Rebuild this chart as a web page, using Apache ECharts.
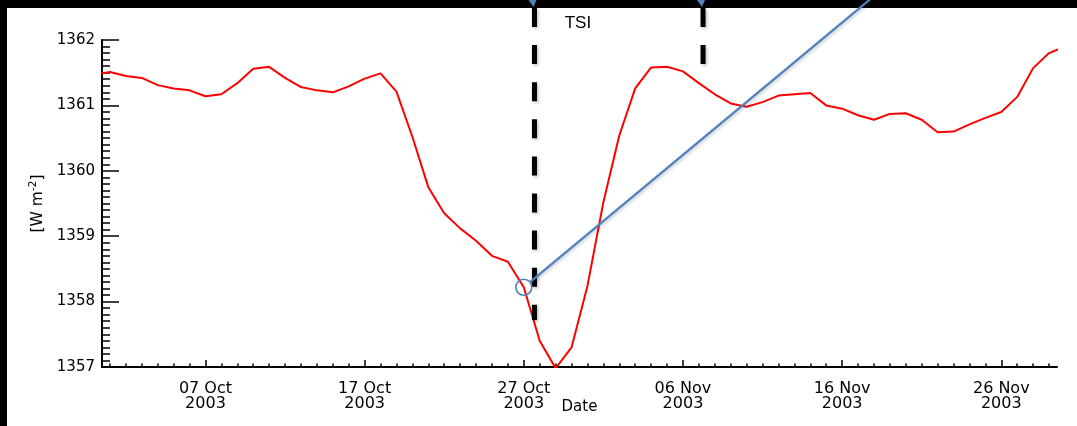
<!DOCTYPE html>
<html>
<head>
<meta charset="utf-8">
<script src="https://cdn.jsdelivr.net/npm/echarts@6/dist/echarts.min.js"></script>
<style>
html,body{margin:0;padding:0;background:#fff;}
#chart{width:1077px;height:426px;}
</style>
</head>
<body>
<div id="chart"></div>
<script>
// Days are counted from 01 Oct 2003 (day 0); first value is 30 Sep 2003.
const startDay = -1;
const tsi = [
  1361.47, 1361.51, 1361.45, 1361.42, 1361.31, 1361.26, 1361.23, 1361.14, 1361.17, 1361.34,
  1361.56, 1361.59, 1361.42, 1361.28, 1361.23, 1361.20, 1361.29, 1361.41, 1361.49, 1361.21,
  1360.52, 1359.75, 1359.35, 1359.12, 1358.93, 1358.70, 1358.61, 1358.22, 1357.40, 1356.98,
  1357.30, 1358.24, 1359.52, 1360.54, 1361.26, 1361.58, 1361.59, 1361.52, 1361.34, 1361.17,
  1361.03, 1360.98, 1361.05, 1361.15, 1361.17, 1361.19, 1361.00, 1360.95, 1360.85, 1360.78,
  1360.87, 1360.88, 1360.78, 1360.59, 1360.60, 1360.71, 1360.81, 1360.90, 1361.13, 1361.57,
  1361.80, 1361.90
];
const xMin = -0.5, xMax = 59.5;
const majorTickDays = [6, 16, 26, 36, 46, 56];
const majorTickLabels = ['07 Oct\n2003', '17 Oct\n2003', '27 Oct\n2003', '06 Nov\n2003', '16 Nov\n2003', '26 Nov\n2003'];
const minorTickDays = [];
for (let d = 0; d <= 59; d++) minorTickDays.push(d);
const yMin = 1357, yMax = 1362;

// annotation anchors (data coordinates)
const markerDays = [26.67, 37.26];
const markerBottoms = [1357.72, 1361.55];
const circleDay = 26;
const arrowEnd = [47.75, 1362.62];
const tsiLabel = 'TSI';
const tsiLabelPos = [29.4, 1362.26];

const font = 'DejaVu Sans';
const blue = '#4f81bd';

const seriesData = tsi.map((v, i) => [startDay + i, v]);

const chart = echarts.init(document.getElementById('chart'), null, {renderer: 'canvas'});
chart.setOption({
  animation: false,
  backgroundColor: '#fff',
  grid: {left: 102, right: 20, top: 40, bottom: 59, containLabel: false, outerBoundsMode: 'none'},
  xAxis: [{
    type: 'value', position: 'bottom', min: xMin, max: xMax,
    name: 'Date', nameLocation: 'middle', nameGap: 33, nameMoveOverlap: false,
    nameTextStyle: {fontFamily: font, fontSize: 15, color: '#000'},
    axisLine: {show: true, onZero: false, lineStyle: {color: '#000', width: 2}},
    axisTick: {show: true, inside: true, length: 7, customValues: majorTickDays, lineStyle: {color: '#000', width: 1.5}},
    axisLabel: {show: true, margin: 14, customValues: majorTickDays, fontFamily: font, fontSize: 16, lineHeight: 15, color: '#000',
      formatter: v => majorTickLabels[majorTickDays.indexOf(v)] || ''},
    splitLine: {show: false}
  }, {
    type: 'value', position: 'bottom', min: xMin, max: xMax,
    axisLine: {show: false},
    axisTick: {show: true, inside: true, length: 3.5, customValues: minorTickDays, lineStyle: {color: '#000', width: 1.5}},
    axisLabel: {show: false},
    splitLine: {show: false}
  }],
  yAxis: {
    type: 'value', min: yMin, max: yMax, interval: 1,
    name: '[W m{sup|-2}]', nameLocation: 'middle', nameRotate: 90, nameGap: 54, nameMoveOverlap: false,
    nameTextStyle: {fontFamily: font, fontSize: 15.5, color: '#000',
      rich: {sup: {fontFamily: font, fontSize: 10.5, color: '#000', padding: [0, 0, 9, 0]}}},
    axisLine: {show: true, onZero: false, lineStyle: {color: '#000', width: 2}},
    axisTick: {show: true, inside: true, length: 17, lineStyle: {color: '#000', width: 1.5}},
    minorTick: {show: true, splitNumber: 10, length: 8, lineStyle: {color: '#000', width: 1.5}},
    axisLabel: {margin: 7, fontFamily: font, fontSize: 15, color: '#000', formatter: v => String(v)},
    splitLine: {show: false}
  },
  series: [{
    type: 'line', xAxisIndex: 0, yAxisIndex: 0, data: seriesData,
    showSymbol: false, clip: true, z: 3,
    lineStyle: {color: '#ff0000', width: 2}
  }]
});

function px(x, y) { return chart.convertToPixel({xAxisIndex: 0, yAxisIndex: 0}, [x, y]); }

const g = [];
// frame bands
g.push({type: 'rect', z: 100, shape: {x: 0, y: 0, width: 1077, height: 8}, style: {fill: '#000'}});
g.push({type: 'rect', z: 100, shape: {x: 0, y: 0, width: 7, height: 426}, style: {fill: '#000'}});
// dashed vertical markers and blue triangles
markerDays.forEach((d, i) => {
  const pb = px(d, markerBottoms[i]);
  g.push({type: 'line', z: 110, shape: {x1: pb[0], y1: 8, x2: pb[0], y2: pb[1]},
    style: {stroke: '#000', lineWidth: 5, lineDash: [19, 18.1], lineCap: 'butt',
      shadowColor: 'rgba(0,0,0,0.25)', shadowBlur: 3, shadowOffsetX: 1.5, shadowOffsetY: 1.5}});
  g.push({type: 'polygon', z: 120, shape: {points: [[pb[0] - 6, 0], [pb[0] + 2, 0], [pb[0] - 1, 7]]}, style: {fill: blue}});
});
// circle and line
const cVal = tsi[circleDay - startDay];
const c = px(circleDay, cVal);
const e = px(arrowEnd[0], arrowEnd[1]);
const r = 8;
const dx = e[0] - c[0], dy = e[1] - c[1], len = Math.sqrt(dx * dx + dy * dy);
g.push({type: 'circle', z: 115, shape: {cx: c[0], cy: c[1], r: r},
  style: {fill: 'none', stroke: blue, lineWidth: 1.6}});
g.push({type: 'line', z: 115, shape: {x1: c[0] + dx / len * r, y1: c[1] + dy / len * r, x2: e[0], y2: e[1]},
  style: {stroke: blue, lineWidth: 2.4, shadowColor: 'rgba(0,0,0,0.2)', shadowBlur: 3, shadowOffsetX: 1.5, shadowOffsetY: 1.5}});
// TSI label
const t = px(tsiLabelPos[0], tsiLabelPos[1]);
g.push({type: 'text', z: 115, x: t[0], y: t[1],
  style: {text: tsiLabel, fontFamily: 'Liberation Sans', fontSize: 17, fill: '#000', align: 'center', verticalAlign: 'middle'}});

chart.setOption({graphic: g});
</script>
</body>
</html>
